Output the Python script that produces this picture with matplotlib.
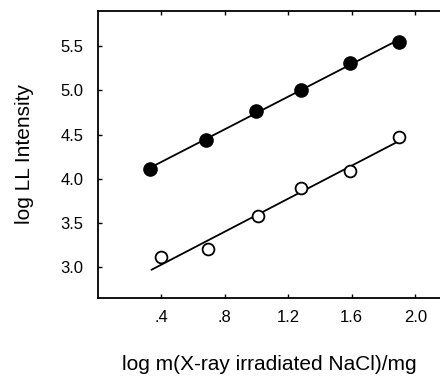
import matplotlib.pyplot as plt
import numpy as np

# log mass of irradiated NaCl vs log LL intensity
x_filled = [0.33, 0.68, 1.00, 1.28, 1.59, 1.90]
y_filled = [4.11, 4.44, 4.77, 5.01, 5.31, 5.55]
x_open = [0.40, 0.695, 1.01, 1.28, 1.59, 1.90]
y_open = [3.11, 3.20, 3.58, 3.89, 4.09, 4.47]

xticks = [0.4, 0.8, 1.2, 1.6, 2.0]
xticklabels = [".4", ".8", "1.2", "1.6", "2.0"]
yticks = [3.0, 3.5, 4.0, 4.5, 5.0, 5.5]

plt.rcParams['font.family'] = ['Liberation Sans', 'DejaVu Sans']

fig = plt.figure(figsize=(4.4, 3.79), dpi=100)
ax = fig.add_axes([0.222, 0.214, 0.778, 0.757])

# least-squares lines through each series
for xs, ys, x0 in [(x_filled, y_filled, 0.33), (x_open, y_open, 0.34)]:
    k, b = np.polyfit(xs, ys, 1)
    xx = np.array([x0, 1.90])
    ax.plot(xx, k * xx + b, color='black', lw=1.3, zorder=1)

ax.plot(x_filled, y_filled, 'o', color='black', ms=9.5, zorder=3)
ax.plot(x_open, y_open, 'o', mfc='white', mec='black', mew=1.3, ms=8.5, zorder=3)

ax.set_xlim(0, 2.156)
ax.set_ylim(2.65, 5.9)
ax.set_xticks(xticks)
ax.set_xticklabels(xticklabels)
ax.set_yticks(yticks)
ax.tick_params(direction='in', length=3, width=1, labelsize=12, top=True)
ax.tick_params(axis='x', pad=9)
ax.tick_params(axis='y', pad=10)
ax.spines['right'].set_visible(False)
for s in ['left', 'bottom', 'top']:
    ax.spines[s].set_linewidth(1.3)

ax.set_xlabel("log m(X-ray irradiated NaCl)/mg", fontsize=15, labelpad=21)
ax.set_ylabel("log LL Intensity", fontsize=15, labelpad=19)

fig.savefig("out.png", dpi=100)
